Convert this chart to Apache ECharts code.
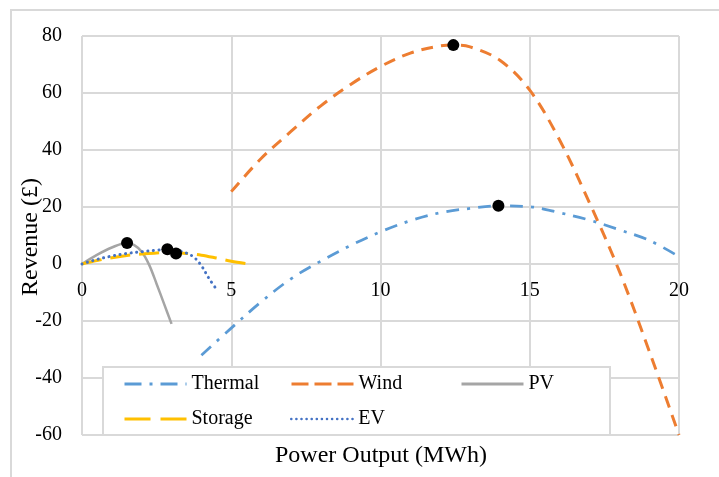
<!DOCTYPE html>
<html>
<head>
<meta charset="utf-8">
<style>
  html, body { margin: 0; padding: 0; background: #ffffff; }
  #chart { width: 719px; height: 477px; }
</style>
<script src="https://cdn.jsdelivr.net/npm/echarts@6/dist/echarts.min.js"></script>
</head>
<body>
<div id="chart"></div>
<script>
// ---- data ----
const xTicks = [0, 5, 10, 15, 20];
const yTicks = [-60, -40, -20, 0, 20, 40, 60, 80];

const thermalX = [4, 5, 6, 7, 8, 9, 10, 11, 12, 13, 14, 15, 16, 17, 18, 19, 20];
const thermalY = [-32, -22.5, -13.3, -5.2, 1, 6.5, 11.3, 15.2, 18.0, 19.5, 20.4, 20.1, 18.0, 15.4, 12.0, 8.3, 2.6];

const windX = [5, 6, 7, 8, 9, 10, 11, 12, 12.5, 13, 14, 15, 16, 17, 18, 19, 20];
const windY = [25.4, 37, 46.5, 55.5, 63, 69.3, 74, 76.5, 76.8, 76.2, 71.5, 61, 43.5, 21.5, -2.5, -30.5, -60];

const pvX = [0, 0.5, 1, 1.5, 1.75, 2, 2.25, 2.5, 2.75, 3];
const pvY = [0, 3.2, 5.8, 7.4, 6.6, 4.3, -0.3, -7, -14, -21];

const storageX = [0, 0.5, 1, 1.5, 2, 2.5, 3, 3.5, 4, 4.5, 5, 5.6];
const storageY = [0, 1.2, 2.2, 3.0, 3.5, 3.9, 4.0, 3.7, 3.1, 2.1, 1.0, 0];

const evX = [0, 0.5, 1, 1.5, 2, 2.5, 2.85, 3.25, 3.5, 3.75, 4, 4.25, 4.46];
const evY = [0, 1.6, 2.8, 3.7, 4.3, 4.85, 5.2, 4.6, 3.8, 2.4, -0.6, -5, -8.2];

const optimumX = [1.51, 2.86, 3.15, 12.44, 13.95];
const optimumY = [7.4, 5.2, 3.7, 76.8, 20.4];

const seriesNames = ['Thermal', 'Wind', 'PV', 'Storage', 'EV'];
const xTitle = 'Power Output (MWh)';
const yTitle = 'Revenue (£)';

// ---- chart ----
const pairs = (xs, ys) => xs.map((x, i) => [x, ys[i]]);
const FONT = '"Liberation Serif", "Times New Roman", serif';
const GRID = '#d9d9d9';

const chart = echarts.init(document.getElementById('chart'), null, { renderer: 'canvas' });

function lineSeries(name, xs, ys, color, width, type, cap) {
  return {
    name: name,
    type: 'line',
    data: pairs(xs, ys),
    smooth: 0.35,
    symbol: 'none',
    z: 5,
    lineStyle: { color: color, width: width, type: type, cap: cap || 'butt' },
    itemStyle: { color: color }
  };
}

function legendItem(name, left, top, width, type, cap) {
  return {
    data: [name],
    left: left,
    top: top,
    padding: 0,
    itemWidth: 62,
    itemHeight: 14,
    itemGap: 0,
    z: 20,
    itemStyle: { color: 'rgba(0,0,0,0)', opacity: 0, borderWidth: 0 },
    lineStyle: { width: width, type: type, cap: cap || 'butt' },
    textStyle: { fontFamily: FONT, fontSize: 20, color: '#000' },
    selectedMode: false
  };
}

const option = {
  backgroundColor: '#ffffff',
  animation: false,
  grid: { left: 82, right: 40, top: 36, bottom: 42, containLabel: false },
  xAxis: {
    type: 'value',
    min: xTicks[0],
    max: xTicks[xTicks.length - 1],
    interval: 5,
    position: 'bottom',
    offset: -171,
    axisLine: { onZero: false, lineStyle: { color: GRID, width: 2 } },
    axisTick: { show: false },
    axisLabel: { fontFamily: FONT, fontSize: 20, color: '#000', margin: 17 },
    splitLine: { show: true, lineStyle: { color: GRID, width: 2 } }
  },
  yAxis: {
    type: 'value',
    min: yTicks[0],
    max: yTicks[yTicks.length - 1],
    interval: 20,
    axisLine: { show: false, onZero: false },
    axisTick: { show: false },
    axisLabel: { fontFamily: FONT, fontSize: 20, color: '#000', margin: 20 },
    splitLine: { show: true, lineStyle: { color: GRID, width: 2 } }
  },
  legend: [
    legendItem(seriesNames[0], 123, 374, 3, [17, 8, 3, 8]),
    legendItem(seriesNames[1], 290, 374, 3, [17, 6]),
    legendItem(seriesNames[2], 460, 374, 3, 'solid'),
    legendItem(seriesNames[3], 123, 409, 3, [26, 10]),
    legendItem(seriesNames[4], 290, 409, 2.5, [0.1, 5], 'round')
  ],
  graphic: [
    {
      type: 'rect', z: 0, silent: true,
      shape: { x: 11, y: 10, width: 720, height: 480 },
      style: { fill: 'none', stroke: GRID, lineWidth: 2 }
    },
    {
      type: 'rect', z: 10, silent: true,
      shape: { x: 103, y: 367, width: 507, height: 68 },
      style: { fill: '#ffffff', stroke: GRID, lineWidth: 2 }
    },
    {
      type: 'text', z: 10, silent: true,
      x: 381, y: 456,
      style: { text: xTitle, fontFamily: FONT, fontSize: 24, fill: '#000', align: 'center', verticalAlign: 'middle' }
    },
    {
      type: 'text', z: 10, silent: true,
      x: 31, y: 237, rotation: Math.PI / 2,
      style: { text: yTitle, fontFamily: FONT, fontSize: 24, fill: '#000', align: 'center', verticalAlign: 'middle' }
    }
  ],
  series: [
    lineSeries(seriesNames[0], thermalX, thermalY, '#5B9BD5', 2.75, [13, 8, 3, 8]),
    lineSeries(seriesNames[1], windX, windY, '#ED7D31', 3, [12, 8]),
    lineSeries(seriesNames[2], pvX, pvY, '#A5A5A5', 2.5, 'solid'),
    lineSeries(seriesNames[3], storageX, storageY, '#FFC000', 3, [20, 9]),
    lineSeries(seriesNames[4], evX, evY, '#4472C4', 3, [0.1, 5.5], 'round'),
    {
      name: 'Optimum',
      type: 'scatter',
      data: pairs(optimumX, optimumY),
      symbol: 'circle',
      symbolSize: 12,
      z: 8,
      itemStyle: { color: '#000000', opacity: 1 }
    }
  ]
};

chart.setOption(option);
</script>
</body>
</html>
